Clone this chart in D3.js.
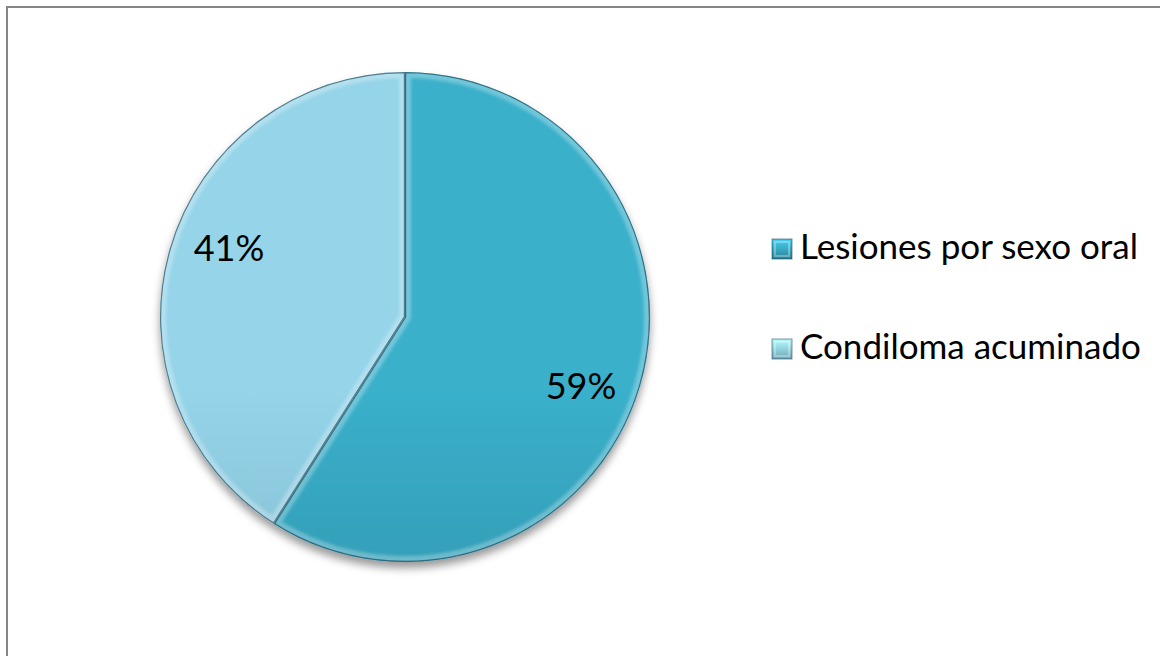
<!DOCTYPE html>
<html>
<head>
<meta charset="utf-8">
<script src="https://cdn.jsdelivr.net/npm/d3@7"></script>
<style>
  html, body { margin: 0; padding: 0; background: #fff; }
  svg { display: block; }
  text { font-family: Lato, "Open Sans", sans-serif; fill: #000; }
</style>
</head>
<body>
<svg id="chart" width="1160" height="656"></svg>
<script>
// Distribution of oral lesions
const categories = ["Lesiones por sexo oral", "Condiloma acuminado"];
const values = [59, 41];
const labels = ["59%", "41%"];
const topColors = ["#3ab0cb", "#95d4e9"];
const bottomColors = ["#2a8197", "#71a6b9"];

const W = 1160, H = 656;
const cx = 405, cy = 317, R = 245;

const svg = d3.select("#chart");
const defs = svg.append("defs");

// soft shadow under the pie
const shadow = defs.append("filter").attr("id", "shadow")
  .attr("x", "-20%").attr("y", "-20%").attr("width", "140%").attr("height", "140%");
shadow.append("feDropShadow")
  .attr("dx", 0).attr("dy", 6).attr("stdDeviation", 4.5)
  .attr("flood-color", "#000").attr("flood-opacity", 0.4);

const blur = defs.append("filter").attr("id", "soft");
blur.append("feGaussianBlur").attr("stdDeviation", 1.6);

categories.forEach((c, i) => {
  const g = defs.append("linearGradient").attr("id", "grad" + i)
    .attr("gradientUnits", "userSpaceOnUse")
    .attr("x1", 0).attr("y1", cy - R).attr("x2", 0).attr("y2", cy + R);
  g.append("stop").attr("offset", "0%").attr("stop-color", topColors[i]);
  g.append("stop").attr("offset", "100%").attr("stop-color", bottomColors[i]);

  const lg = defs.append("linearGradient").attr("id", "lgrad" + i)
    .attr("x1", 0).attr("y1", 0).attr("x2", 0).attr("y2", 1);
  lg.append("stop").attr("offset", "0%").attr("stop-color", d3.color(topColors[i]).brighter(0.5));
  lg.append("stop").attr("offset", "100%").attr("stop-color", bottomColors[i]);
});

// chart frame (only top and left edges fall inside the view)
svg.append("rect")
  .attr("x", 7).attr("y", 7).attr("width", W + 20).attr("height", H + 20)
  .attr("fill", "none").attr("stroke", "#868686").attr("stroke-width", 2);

const pie = d3.pie().sort(null).value(d => d)(values);
const arc = d3.arc().innerRadius(0).outerRadius(R);
const labelArc = d3.arc().innerRadius(189).outerRadius(189);
const labelShift = 0.09; // labels sit slightly clockwise of the slice middle

const gPie = svg.append("g").attr("transform", `translate(${cx},${cy})`);

// base shape with drop shadow
gPie.append("g").attr("filter", "url(#shadow)")
  .selectAll("path").data(pie).join("path")
  .attr("d", arc)
  .attr("fill", (d, i) => `url(#grad${i})`);

// clip paths for the inner bevel highlight
pie.forEach((d, i) => {
  defs.append("clipPath").attr("id", "clip" + i)
    .append("path").attr("d", arc(d)).attr("transform", `translate(${cx},${cy})`);
});

const slices = svg.append("g");
pie.forEach((d, i) => {
  const s = slices.append("g").attr("clip-path", `url(#clip${i})`);
  s.append("path")
    .attr("transform", `translate(${cx},${cy})`)
    .attr("d", arc(d))
    .attr("fill", "none")
    .attr("stroke", "rgba(255,255,255,0.28)")
    .attr("stroke-width", 12)
    .attr("filter", "url(#soft)");
  s.append("path")
    .attr("transform", `translate(${cx},${cy})`)
    .attr("d", arc(d))
    .attr("fill", "none")
    .attr("stroke", "rgba(0,40,60,0.55)")
    .attr("stroke-width", 2.4);
});

// percentage labels
gPie.selectAll("text.pct").data(pie).join("text")
  .attr("class", "pct")
  .attr("transform", d => `translate(${labelArc.centroid({
    startAngle: d.startAngle + labelShift, endAngle: d.endAngle + labelShift })})`)
  .attr("text-anchor", "middle")
  .attr("dy", "0.36em")
  .style("font-size", "36px")
  .text((d, i) => labels[i]);

// legend
const legend = svg.append("g").attr("transform", "translate(772,239)");
const item = legend.selectAll("g").data(categories).join("g")
  .attr("transform", (d, i) => `translate(0,${i * 100})`);
item.append("rect")
  .attr("width", 20).attr("height", 20)
  .attr("fill", (d, i) => `url(#lgrad${i})`)
  .attr("stroke", "rgba(0,50,70,0.5)").attr("stroke-width", 1);
item.append("rect")
  .attr("x", 3).attr("y", 3).attr("width", 14).attr("height", 14)
  .attr("fill", "none").attr("stroke", "rgba(255,255,255,0.3)").attr("stroke-width", 2);
item.append("text")
  .attr("x", 28).attr("y", 20)
  .style("font-size", "35px")
  .text(d => d);
</script>
</body>
</html>
